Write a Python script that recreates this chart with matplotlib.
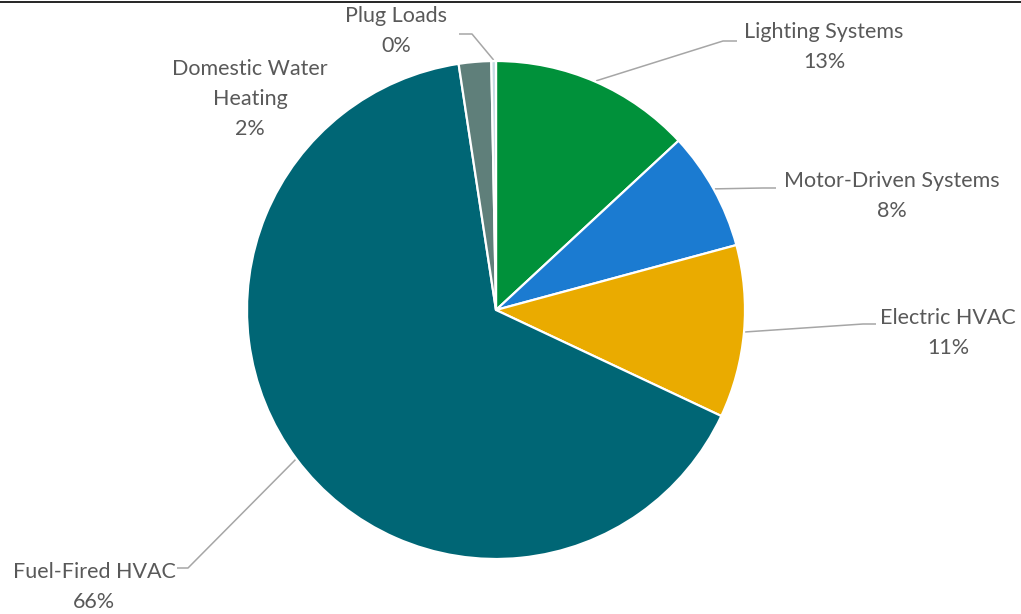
import numpy as np
import matplotlib
matplotlib.use('Agg')
import matplotlib.pyplot as plt

# data (clockwise from 12 o'clock)
categories = ['Lighting Systems', 'Motor-Driven Systems', 'Electric HVAC',
              'Fuel-Fired HVAC', 'Domestic Water\nHeating', 'Plug Loads']
shares = [13.1, 7.7, 11.2, 65.6, 2.1, 0.3]
colors = ['#00913A', '#1B7BD1', '#EAAB00', '#006675', '#5F7F7A', '#C5DCE4']

# label layout in figure pixels (x centre, y centre of text block), elbow of leader, end of leader
label_pos = [(824, 47), (892, 196), (948, 333), (94, 587), (250, 99), (396, 31)]
elbow_pos = [(723, 41), (763, 188), (863, 324), (188, 568), None, (472, 34)]
leader_end = [(737, 41), (776, 188), (876, 324), (177, 568), None, (459, 34)]

W, H = 1021, 614
cx, cy, r = 496, 310, 249

plt.rcParams['font.family'] = ['Lato', 'DejaVu Sans']
fig = plt.figure(figsize=(W / 100, H / 100), dpi=100)

# overlay in pixel coordinates for labels / leaders
ov = fig.add_axes([0, 0, 1, 1])
ov.set_xlim(0, W)
ov.set_ylim(H, 0)
ov.axis('off')

ax = fig.add_axes([(cx - r) / W, (H - cy - r) / H, 2 * r / W, 2 * r / H])
wedges, _ = ax.pie(shares, colors=colors, startangle=90, counterclock=False,
                   radius=1, wedgeprops=dict(edgecolor='white', linewidth=1.6))
ax.set_xlim(-1, 1)
ax.set_ylim(-1, 1)
ax.set_aspect('auto')

total = sum(shares)
for i, w in enumerate(wedges):
    pct = shares[i] / total * 100
    lx, ly = label_pos[i]
    ov.text(lx, ly, categories[i] + '\n' + f'{pct:.0f}%', ha='center', va='center',
            fontsize=15.5, color='#595959', linespacing=1.6)
    if elbow_pos[i] is None:
        continue
    mid = np.deg2rad((w.theta1 + w.theta2) / 2)
    sx = cx + (r + 1) * np.cos(mid)
    sy = cy - (r + 1) * np.sin(mid)
    ex, ey = elbow_pos[i]
    tx, ty = leader_end[i]
    ov.plot([sx, ex, tx], [sy, ey, ty], color='#A6A6A6', lw=1.1, solid_capstyle='butt')

# top border line
ov.plot([0, W], [2, 2], color='black', lw=1.2)

fig.savefig('out.png', dpi=100)
